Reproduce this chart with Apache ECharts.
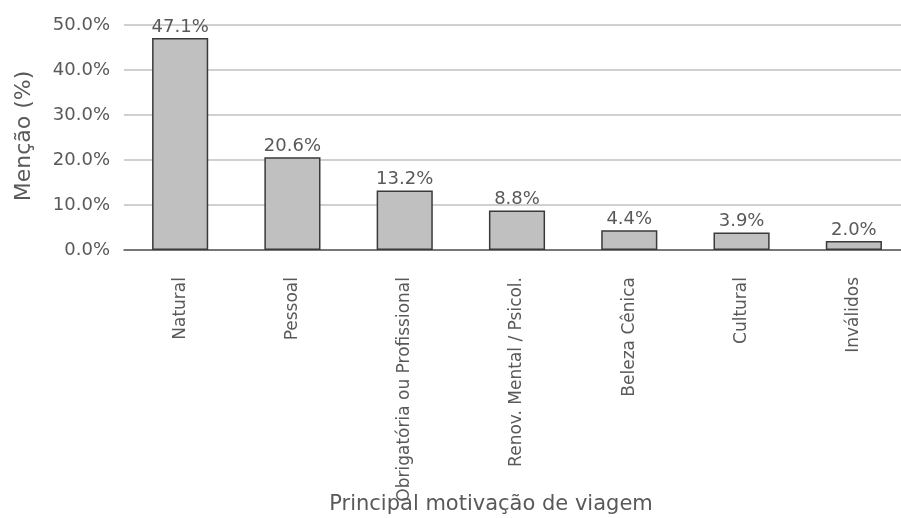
<!DOCTYPE html>
<html>
<head>
<meta charset="utf-8">
<script src="https://cdn.jsdelivr.net/npm/echarts@6/dist/echarts.min.js"></script>
<style>
  html, body { margin: 0; padding: 0; background: #fff; overflow: hidden; }
  /* plot runs slightly past the right edge of the page */
  #chart { width: 910px; height: 518px; }
</style>
</head>
<body>
<div id="chart"></div>
<script>
// Principal motivação de viagem — percentual de menções
const categories = ['Natural', 'Pessoal', 'Obrigatória ou Profissional', 'Renov. Mental / Psicol.', 'Beleza Cênica', 'Cultural', 'Inválidos'];
const mencoes = [47.1, 20.6, 13.2, 8.8, 4.4, 3.9, 2.0];
const yTicks = { min: 0, max: 50, interval: 10 };
const xTitle = 'Principal motivação de viagem';
const yTitle = 'Menção (%)';

const FONT = '"DejaVu Sans", "Open Sans", sans-serif';
const TEXT = '#595959';

const chart = echarts.init(document.getElementById('chart'), null, { renderer: 'canvas' });
chart.setOption({
  animation: false,
  grid: { left: 124, top: 25, right: 0, height: 225, containLabel: false },
  xAxis: {
    type: 'category',
    data: categories,
    axisLine: { show: true, lineStyle: { color: '#595959', width: 1.5 } },
    axisTick: { show: false },
    axisLabel: {
      rotate: 90,
      interval: 0,
      margin: 27,
      color: TEXT,
      fontFamily: FONT,
      fontSize: 17
    }
  },
  yAxis: {
    type: 'value',
    min: yTicks.min,
    max: yTicks.max,
    interval: yTicks.interval,
    axisLine: { show: false },
    axisTick: { show: false },
    splitLine: { lineStyle: { color: '#d0d0d0', width: 2 } },
    axisLabel: {
      margin: 14,
      color: TEXT,
      fontFamily: FONT,
      fontSize: 18,
      formatter: v => v.toFixed(1) + '%'
    }
  },
  series: [{
    type: 'bar',
    data: mencoes,
    barWidth: '50%',
    itemStyle: { color: '#c0c0c0', borderColor: '#3a3a3a', borderWidth: 1.5 },
    label: {
      show: true,
      position: 'top',
      distance: 2,
      color: TEXT,
      fontFamily: FONT,
      fontSize: 18,
      formatter: p => p.value.toFixed(1) + '%'
    }
  }],
  graphic: [
    {
      type: 'text',
      x: 491, y: 505,
      style: { text: xTitle, fill: TEXT, font: '21px ' + FONT, align: 'center', verticalAlign: 'middle' }
    },
    {
      type: 'text',
      x: 24, y: 136,
      rotation: Math.PI / 2,
      style: { text: yTitle, fill: TEXT, font: '22px ' + FONT, align: 'center', verticalAlign: 'middle' }
    }
  ]
});
</script>
</body>
</html>
